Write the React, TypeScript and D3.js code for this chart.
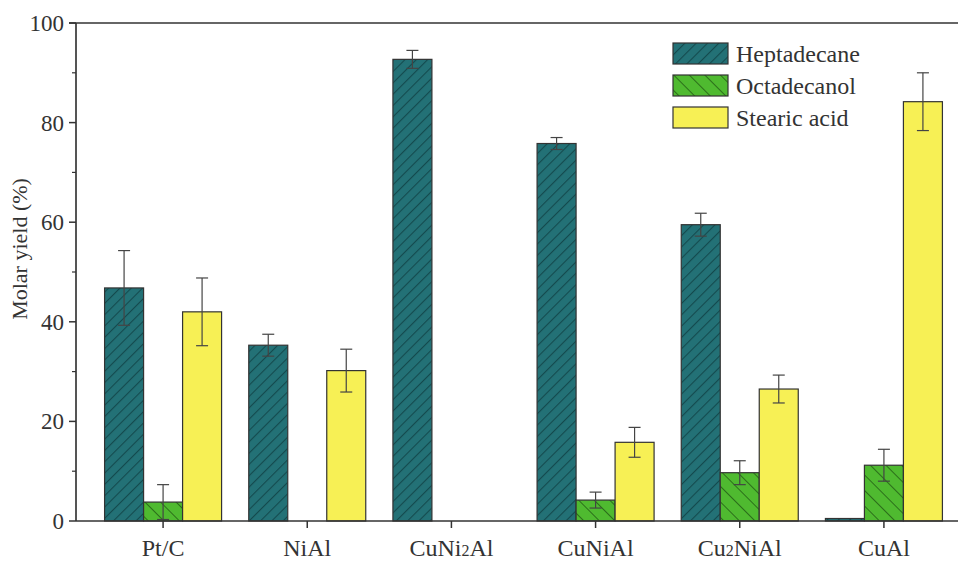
import React from "react";
import * as d3 from "d3";

const categories = ["Pt/C", "NiAl", "CuNi2Al", "CuNiAl", "Cu2NiAl", "CuAl"];
const seriesNames = ["Heptadecane", "Octadecanol", "Stearic acid"];
const heptadecane = [46.8, 35.3, 92.7, 75.8, 59.5, 0.5];
const heptadecaneErr = [7.5, 2.2, 1.8, 1.2, 2.3, 0];
const octadecanol = [3.8, 0, 0, 4.2, 9.7, 11.2];
const octadecanolErr = [3.5, 0, 0, 1.6, 2.4, 3.2];
const stearic = [42.0, 30.2, 0, 15.8, 26.5, 84.2];
const stearicErr = [6.8, 4.3, 0, 3.0, 2.8, 5.8];
const yTicks = [0, 20, 40, 60, 80, 100];
const yMinorTicks = [10, 30, 50, 70, 90];

const W = 961, H = 562;
const left = 76, right = 958, top = 23, bottom = 521;

const fills = ["url(#hatchH)", "url(#hatchO)", "#f7f055"];

function CatLabel({ name }: { name: string }) {
  const m = name.match(/^(.*?)(\d)(.*)$/);
  if (!m) return <>{name}</>;
  return (
    <>
      {m[1]}
      <tspan fontSize={16}>{m[2]}</tspan>
      {m[3]}
    </>
  );
}

export default function App() {
  const x = d3.scaleBand<string>().domain(categories).range([91, 956]).paddingInner(0).paddingOuter(0);
  const y = d3.scaleLinear().domain([0, 100]).range([bottom, top]);
  const barW = 39;
  const series = [
    { vals: heptadecane, errs: heptadecaneErr },
    { vals: octadecanol, errs: octadecanolErr },
    { vals: stearic, errs: stearicErr },
  ];
  const font = "'Liberation Serif', 'Times New Roman', serif";

  return (
    <svg width={W} height={H} style={{ position: "absolute", left: 0, top: 0, background: "#fff" }} fontFamily={font}>
      <defs>
        <pattern id="hatchH" patternUnits="userSpaceOnUse" width={8} height={8} patternTransform="rotate(45)">
          <rect width={8} height={8} fill="#237176" />
          <line x1={0} y1={0} x2={0} y2={8} stroke="#144a4e" strokeWidth={2.2} />
        </pattern>
        <pattern id="hatchO" patternUnits="userSpaceOnUse" width={11} height={11} patternTransform="rotate(-45)">
          <rect width={11} height={11} fill="#4fba30" />
          <line x1={0} y1={0} x2={0} y2={11} stroke="#2b6e1a" strokeWidth={2} />
        </pattern>
      </defs>

      {/* bars */}
      {series.map((s, si) =>
        categories.map((c, ci) => {
          const v = s.vals[ci];
          if (v <= 0) return null;
          const cx = (x(c) as number) + x.bandwidth() / 2;
          const bx = cx + (si - 1) * barW - barW / 2;
          return (
            <rect key={`b${si}-${ci}`} x={bx} y={y(v)} width={barW} height={bottom - y(v)}
              fill={fills[si]} stroke="#333" strokeWidth={1.2} />
          );
        })
      )}
      {/* error bars */}
      {series.map((s, si) =>
        categories.map((c, ci) => {
          const v = s.vals[ci];
          const e = s.errs[ci];
          if (v <= 0 || e <= 0) return null;
          const cx = (x(c) as number) + x.bandwidth() / 2 + (si - 1) * barW;
          return (
            <g key={`e${si}-${ci}`} stroke="#444" strokeWidth={1.2}>
              <line x1={cx} x2={cx} y1={y(v + e)} y2={y(Math.max(0, v - e))} />
              <line x1={cx - 6} x2={cx + 6} y1={y(v + e)} y2={y(v + e)} />
              <line x1={cx - 6} x2={cx + 6} y1={y(Math.max(0, v - e))} y2={y(Math.max(0, v - e))} />
            </g>
          );
        })
      )}

      {/* axes */}
      <line x1={left} x2={left} y1={top} y2={bottom} stroke="#555" strokeWidth={2} />
      <line x1={left - 7} x2={right} y1={top} y2={top} stroke="#333" strokeWidth={1.5} />
      <line x1={left} x2={right} y1={bottom} y2={bottom} stroke="#333" strokeWidth={1.5} />
      {yTicks.map((t) => (
        <g key={`yt${t}`}>
          <line x1={left - 7} x2={left} y1={y(t)} y2={y(t)} stroke="#333" strokeWidth={1.5} />
          <text x={left - 12} y={y(t)} dy="0.35em" textAnchor="end" fontSize={23} fill="#333">{t}</text>
        </g>
      ))}
      {yMinorTicks.map((t) => (
        <line key={`ym${t}`} x1={left - 4} x2={left} y1={y(t)} y2={y(t)} stroke="#333" strokeWidth={1.2} />
      ))}
      {categories.map((c) => {
        const cx = (x(c) as number) + x.bandwidth() / 2;
        return (
          <g key={`xt${c}`}>
            <line x1={cx} x2={cx} y1={bottom} y2={bottom + 7} stroke="#333" strokeWidth={1.5} />
            <text x={cx} y={556} textAnchor="middle" fontSize={24} fill="#333"><CatLabel name={c} /></text>
          </g>
        );
      })}
      <text transform={`translate(27,249) rotate(-90)`} textAnchor="middle" fontSize={22} fill="#333">
        Molar yield (%)
      </text>

      {/* legend */}
      {seriesNames.map((n, i) => (
        <g key={`lg${i}`} transform={`translate(673,${43 + i * 32})`}>
          <rect width={55} height={21} fill={fills[i]} stroke="#333" strokeWidth={1.2} />
          <text x={63} y={10.5} dy="0.35em" fontSize={24} fill="#333">{n}</text>
        </g>
      ))}
    </svg>
  );
}
